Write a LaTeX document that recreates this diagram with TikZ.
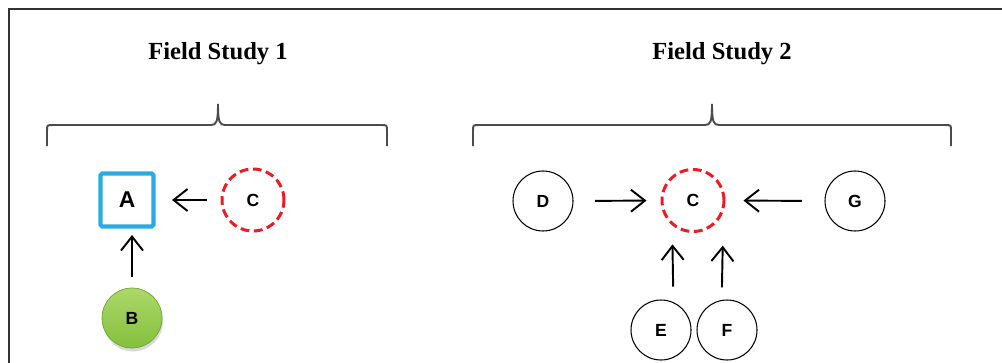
\documentclass[tikz,border=0pt]{standalone}
\usepackage{fontspec}
\setmainfont{Liberation Serif}
\newfontfamily\labelfont{Liberation Sans}
\usepackage{tikz}
\usetikzlibrary{positioning}
\usetikzlibrary{arrows.meta}
\usetikzlibrary{shadows}
\usepackage{xcolor}
\definecolor{blueA}{RGB}{41,171,226}
\definecolor{redC}{RGB}{237,28,36}
\definecolor{greenTop}{RGB}{172,216,104}
\definecolor{greenBot}{RGB}{132,192,62}
\tikzset{frameLine/.style={line width=1.7pt, draw=black!80}}
\tikzset{bracket/.style={line width=1.1pt, draw=black!70}}
\tikzset{fieldTitle/.style={font=\bfseries\fontsize{14}{16}\selectfont}}
\tikzset{mycircle/.style={draw, circle, minimum size=1.2cm, inner sep=0pt, line width=0.6pt, font=\labelfont\bfseries\fontsize{10}{12}\selectfont}}
\tikzset{mycircleFocus/.style={mycircle, draw=redC, dash pattern=on 5pt off 2.6pt, line width=1.7pt, minimum size=1.24cm}}
\tikzset{mybox/.style={draw=blueA, line width=2.3pt, minimum size=1.06cm, inner sep=0pt, rounded corners=1pt, font=\labelfont\bfseries\fontsize{13}{15}\selectfont}}
\tikzset{myball/.style={mycircle, draw=greenBot!85!black, line width=0.4pt, top color=greenTop, bottom color=greenBot, drop shadow={shadow xshift=0.02cm, shadow yshift=-0.07cm, opacity=0.3}}}
\tikzset{myarrow/.style={-{Straight Barb[length=0.28cm,width=0.44cm]}, line width=1.1pt}}

\begin{document}
\begin{tikzpicture}
\useasboundingbox (0,0) rectangle (20.04,7.24);
\draw[frameLine] (0.18,-0.2) -- (0.18,7.06) -- (20.3,7.06);

\node[fieldTitle] (fs1) at (4.36, 6.16) {Field Study 1};
\node[fieldTitle] (fs2) at (14.44, 6.16) {Field Study 2};

\draw[bracket] (0.94,4.32) -- (0.94,4.62) .. controls (0.94,4.74) .. (1.06,4.74) -- (4.22,4.74) .. controls (4.33,4.74) and (4.36,4.80) .. (4.36,5.16) .. controls (4.36,4.80) and (4.39,4.74) .. (4.50,4.74) -- (7.62,4.74) .. controls (7.74,4.74) .. (7.74,4.62) -- (7.74,4.32);
\draw[bracket] (9.46,4.32) -- (9.46,4.62) .. controls (9.46,4.74) .. (9.58,4.74) -- (14.10,4.74) .. controls (14.21,4.74) and (14.24,4.80) .. (14.24,5.16) .. controls (14.24,4.80) and (14.27,4.74) .. (14.38,4.74) -- (18.90,4.74) .. controls (19.02,4.74) .. (19.02,4.62) -- (19.02,4.32);

\node[mybox] (A) at (2.54, 3.24) {A};
\node[mycircleFocus] (c1) at (5.06, 3.24) {C};
\node[myball] (B) at (2.64, 0.88) {B};

\node[mycircle] (D) at (10.86, 3.22) {D};
\node[mycircleFocus] (c2) at (13.86, 3.23) {C};
\node[mycircle] (G) at (17.1, 3.22) {G};
\node[mycircle] (E) at (13.22, 0.64) {E};
\node[mycircle] (F) at (14.54, 0.64) {F};

\draw[myarrow, shorten <=0.28cm, shorten >=0.33cm] (c1.west) -- (A.east);
\draw[myarrow, shorten <=0.22cm, shorten >=0.13cm] (B.north) -- (B.north |- A.south);
\draw[myarrow, shorten <=0.43cm, shorten >=0.28cm] (D.east) -- (c2.west);
\draw[myarrow, shorten <=0.45cm, shorten >=0.36cm] (G.west) -- (c2.east);
\draw[myarrow, shorten <=0.31cm, shorten >=0.38cm] (E.66) -- (c2.-130);
\draw[myarrow, shorten <=0.25cm, shorten >=0.67cm] (F.100) -- (c2.-21);
\end{tikzpicture}
\end{document}
